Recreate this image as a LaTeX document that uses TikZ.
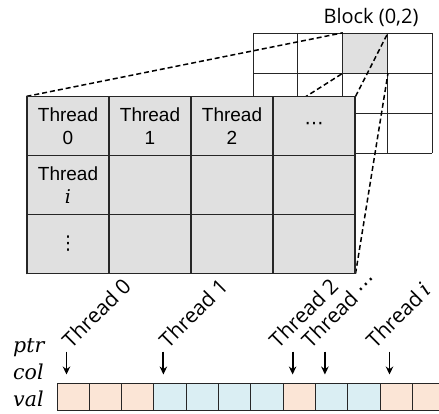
\documentclass[tikz,border=0pt]{standalone}
\usepackage{fontspec}
\setmainfont{Liberation Sans}
\newfontfamily\opensans{Open Sans}
\newfontfamily\symfont{DejaVu Sans}
\newfontfamily\varfont{DejaVu Serif}
\usetikzlibrary{arrows.meta,calc,positioning,backgrounds}
\definecolor{cellgray}{HTML}{E0E0E0}
\definecolor{valorange}{HTML}{FBE5D6}
\definecolor{valblue}{HTML}{DAEEF3}
\newcommand{\vname}[1]{{\varfont\itshape #1}}

\begin{document}
\begin{tikzpicture}[x=1pt,y=-1pt,>={Stealth[length=8pt,width=7.5pt]},
  tcell/.style={draw=black!85,line width=1.1pt,fill=cellgray,minimum width=82pt,minimum height=58.7pt,inner sep=0pt,align=center,font=\fontsize{19}{23}\selectfont},
  vcell/.style={draw=black!85,line width=1pt,minimum width=32.3pt,minimum height=27pt,inner sep=0pt},
  gridline/.style={black!85,line width=0.9pt},
  dashline/.style={line width=1.5pt,dash pattern=on 5pt off 3pt},
  thlabel/.style={font=\opensans\fontsize{21}{25}\selectfont,rotate=45,anchor=south west,inner sep=0pt},
  rowlabel/.style={font=\fontsize{20.5}{24}\selectfont,anchor=base west,inner sep=0pt},
  ptrarrow/.style={->,line width=1.9pt}]
  \useasboundingbox (0,0) rectangle (439,414);
  \clip (0,0) rectangle (439,414);
  \foreach \r/\c/\txt in {0/0/{Thread\\0},0/1/{Thread\\1},0/2/{Thread\\2},0/3/{\symfont ⋯},
      1/0/{Thread\\\vname{i}},1/1/{},1/2/{},1/3/{},2/0/{\symfont ⋮},2/1/{},2/2/{},2/3/{}}
    \node[tcell] (t\r\c) at ({68+82*\c},{126.3+58.7*\r}) {\txt};
  \node[font=\opensans\fontsize{20}{24}\selectfont,anchor=base] (blklabel) at (371,24) {Block (0,2)};
  \begin{pgfonlayer}{background}
    \node[draw=none,fill=cellgray,minimum width=44.75pt,minimum height=40pt,inner sep=0pt] (blk) at (365.4,53) {};
    \foreach \k in {0,...,4} \draw[gridline] ({253+44.75*\k},33) -- ({253+44.75*\k},153);
    \foreach \k in {0,...,3} \draw[gridline] (253,{33+40*\k}) -- (432,{33+40*\k});
    \draw[dashline] (t00.north west) -- (blk.north west);
    \draw[dashline] (t03.north east) -- (blk.north east);
    \draw[dashline] (t20.south west) -- (blk.south west);
    \draw[dashline] (t23.south east) -- (blk.south east);
  \end{pgfonlayer}
  \foreach \k/\col in {1/valorange,2/valorange,3/valorange,4/valblue,5/valblue,6/valblue,
      7/valblue,8/valorange,9/valblue,10/valblue,11/valorange,12/valorange}
    \node[vcell,fill=\col] (v\k) at ({57+32.3*(\k-0.5)},396.5) {};
  \node[rowlabel] (ptr) at (13,352) {\vname{ptr}};
  \node[rowlabel] (col) at (13,379) {\vname{col}};
  \node[rowlabel] (val) at (13,406) {\vname{val}};
  \foreach \k/\n/\dx/\txt in {1/0/5/{Thread 0},4/1/5/{Thread 1},8/2/-14/{Thread 2},
      9/3/-14/{Thread {\symfont ⋯}},11/4/-14/{Thread \vname{i}}}{
    \coordinate (p\n) at ($(v\k.north west)+(10,-31)$);
    \coordinate (q\n) at ($(v\k.north west)+(10,-8)$);
    \draw[ptrarrow] (p\n) -- (q\n);
    \node[thlabel] (th\n) at ($(p\n)+(\dx,-2)$) {\txt};
  }
\end{tikzpicture}
\end{document}
